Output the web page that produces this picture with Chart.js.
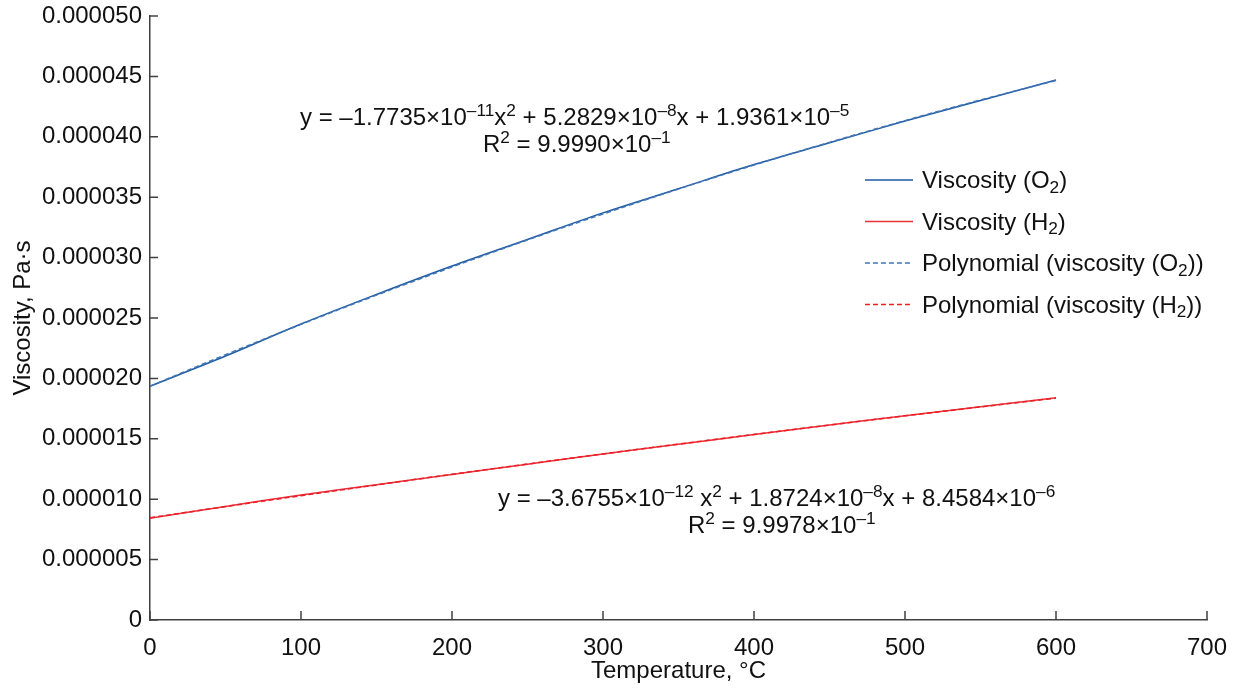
<!DOCTYPE html>
<html>
<head>
<meta charset="utf-8">
<script src="https://cdn.jsdelivr.net/npm/chart.js@4.4.1/dist/chart.umd.min.js"></script>
<style>
  html, body { margin: 0; padding: 0; background: #fff; }
  #wrap { width: 1239px; height: 690px; }
</style>
</head>
<body>
<div id="wrap"><canvas id="viscChart"></canvas></div>
<script>
// Temperature, °C
const temps = [0, 50, 100, 150, 200, 250, 300, 350, 400, 450, 500, 550, 600];

// Viscosity, Pa·s (x1e-6)
const o2Data = [19.35, 21.85, 24.5, 26.95, 29.3, 31.5, 33.7, 35.7, 37.7, 39.5, 41.3, 43.0, 44.7];
const h2Data = [8.42, 9.4, 10.35, 11.2, 12.05, 12.9, 13.75, 14.55, 15.35, 16.15, 16.9, 17.65, 18.4];
const o2Fit  = [19.36, 21.96, 24.47, 26.89, 29.22, 31.46, 33.61, 35.68, 37.66, 39.54, 41.34, 43.05, 44.67];
const h2Fit  = [8.46, 9.39, 10.29, 11.18, 12.06, 12.91, 13.75, 14.56, 15.36, 16.14, 16.9, 17.64, 18.37];

const xTicksMax = 700;
const yTicksMax = 0.00005;

// legend and equation texts: [text, kind] kind '' normal, '^' sup, '_' sub
const legendLabels = [
    [['Viscosity (O', ''], ['2', '_'], [')', '']],
    [['Viscosity (H', ''], ['2', '_'], [')', '']],
    [['Polynomial (viscosity (O', ''], ['2', '_'], ['))', '']],
    [['Polynomial (viscosity (H', ''], ['2', '_'], ['))', '']]
];
const eqO2 = [['y = \u20131.7735\u00d710', ''], ['\u201311', '^'], ['x', ''], ['2', '^'],
    [' + 5.2829\u00d710', ''], ['\u20138', '^'], ['x + 1.9361\u00d710', ''], ['\u20135', '^']];
const r2O2 = [['R', ''], ['2', '^'], [' = 9.9990\u00d710', ''], ['\u20131', '^']];
const eqH2 = [['y = \u20133.6755\u00d710', ''], ['\u201312', '^'], [' x', ''], ['2', '^'],
    [' + 1.8724\u00d710', ''], ['\u20138', '^'], ['x + 8.4584\u00d710', ''], ['\u20136', '^']];
const r2H2 = [['R', ''], ['2', '^'], [' = 9.9978\u00d710', ''], ['\u20131', '^']];

const FONT = '"Liberation Sans", Arial, sans-serif';
const FS = 24;

const toPts = (arr) => temps.map((t, i) => ({ x: t, y: arr[i] * 1e-6 }));

function drawRich(ctx, parts, x, y, size) {
    let cx = x;
    ctx.textBaseline = 'alphabetic';
    ctx.textAlign = 'left';
    parts.forEach(([txt, kind]) => {
        const s = kind ? size * 0.72 : size;
        const dy = kind === '^' ? -size * 0.36 : (kind === '_' ? size * 0.2 : 0);
        ctx.font = s + 'px ' + FONT;
        ctx.fillText(txt, cx, y + dy);
        cx += ctx.measureText(txt).width;
    });
}

const colors = {
    o2: '#1b5aa5',
    h2: '#e8333b',
    o2fit: '#4676b4',
    h2fit: '#ee1c24'
};

// inward tick marks, legend and equation labels
const extrasPlugin = {
    id: 'extras',
    afterDraw(chart) {
        const ctx = chart.ctx;
        const xs = chart.scales.x, ys = chart.scales.y;
        ctx.save();
        ctx.strokeStyle = '#404040';
        ctx.lineWidth = 1.5;
        ctx.beginPath();
        xs.ticks.forEach(t => {
            const px = xs.getPixelForValue(t.value);
            ctx.moveTo(px, ys.bottom);
            ctx.lineTo(px, ys.bottom - 9);
        });
        ys.ticks.forEach(t => {
            const py = ys.getPixelForValue(t.value);
            ctx.moveTo(xs.left, py);
            ctx.lineTo(xs.left + 8, py);
        });
        ctx.stroke();

        // legend
        const lx = 865, ly0 = 180, step = 41.5;
        chart.data.datasets.forEach((ds, i) => {
            const y = ly0 + i * step;
            ctx.strokeStyle = ds.borderColor;
            ctx.lineWidth = 1.5;
            ctx.setLineDash(ds.borderDash || []);
            ctx.beginPath();
            ctx.moveTo(lx, y);
            ctx.lineTo(lx + 48, y);
            ctx.stroke();
            ctx.setLineDash([]);
            ctx.fillStyle = '#111';
            drawRich(ctx, legendLabels[i], lx + 57, y + 8, FS);
        });

        // equations
        ctx.fillStyle = '#111';
        drawRich(ctx, eqO2, 300, 125, FS);
        drawRich(ctx, r2O2, 483, 152, FS);
        drawRich(ctx, eqH2, 498, 506, FS);
        drawRich(ctx, r2H2, 688, 533, FS);
        ctx.restore();
    }
};

new Chart(document.getElementById('viscChart'), {
    type: 'line',
    data: {
        datasets: [
            { label: 'Viscosity (O\u2082)', data: toPts(o2Data), borderColor: colors.o2, order: 2 },
            { label: 'Viscosity (H\u2082)', data: toPts(h2Data), borderColor: colors.h2, order: 2 },
            { label: 'Polynomial (viscosity (O\u2082))', data: toPts(o2Fit), borderColor: colors.o2fit, borderDash: [5, 3], order: 1 },
            { label: 'Polynomial (viscosity (H\u2082))', data: toPts(h2Fit), borderColor: colors.h2fit, borderDash: [5, 3], order: 1 }
        ].map(d => Object.assign({ borderWidth: 1.5, pointRadius: 0, fill: false, tension: 0.35 }, d))
    },
    options: {
        responsive: true,
        maintainAspectRatio: false,
        animation: false,
        layout: { padding: { top: 16, right: 32, left: 9, bottom: 0 } },
        plugins: {
            legend: { display: false },
            tooltip: { enabled: false }
        },
        scales: {
            x: {
                type: 'linear',
                min: 0,
                max: xTicksMax,
                grid: { display: false },
                border: { display: true, color: '#404040', width: 1.5 },
                ticks: { stepSize: 100, color: '#111', font: { family: FONT, size: FS }, padding: 6, maxRotation: 0 },
                title: { display: true, text: 'Temperature, \u00b0C', color: '#111', font: { family: FONT, size: FS }, padding: { top: 0, bottom: 4 } },
                afterFit: s => { s.height = 70; }
            },
            y: {
                min: 0,
                max: yTicksMax,
                grid: { display: false },
                border: { display: true, color: '#404040', width: 1.5 },
                ticks: {
                    stepSize: 0.000005,
                    color: '#111',
                    font: { family: FONT, size: FS },
                    padding: 0,
                    callback: v => (v === 0 ? '0' : v.toFixed(6))
                },
                title: { display: true, text: 'Viscosity, Pa\u00b7s', color: '#111', font: { family: FONT, size: FS }, padding: { top: 0, bottom: 4 } },
                afterFit: s => { s.width = 141; s.paddingTop = 0; s.paddingBottom = 0; }
            }
        }
    },
    plugins: [extrasPlugin]
});
</script>
</body>
</html>
